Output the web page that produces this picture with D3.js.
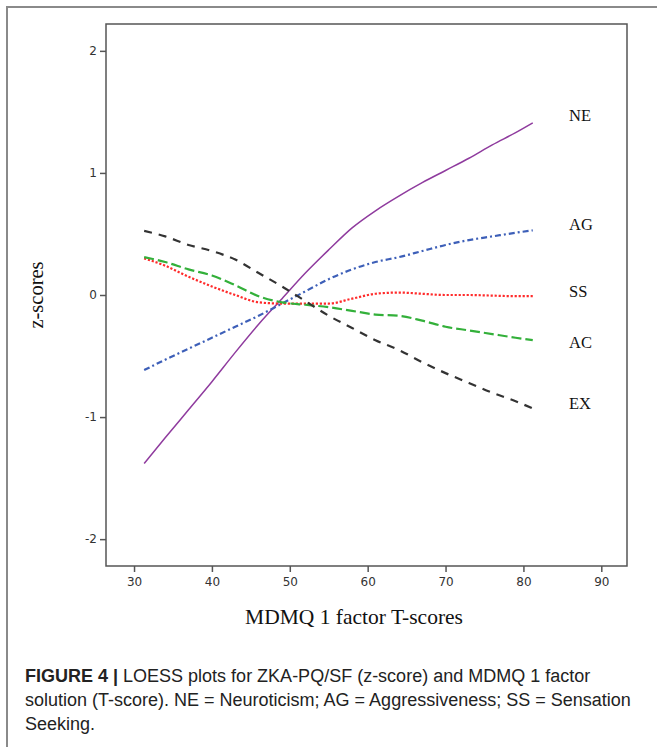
<!DOCTYPE html>
<html>
<head>
<meta charset="utf-8">
<script src="https://cdn.jsdelivr.net/npm/d3@7"></script>
<style>
  html, body { margin: 0; padding: 0; background: #fff; }
  svg { display: block; }
</style>
</head>
<body>
<div id="chart"></div>
<script>
const tScores = [31.3, 34, 37, 40, 43, 46, 49, 52, 55, 58, 61, 64, 67, 70, 73, 76, 79, 81.2]

const neValues = [-1.38, -1.17, -0.94, -0.71, -0.47, -0.24, -0.03, 0.18, 0.37, 0.55, 0.69, 0.81, 0.92, 1.02, 1.12, 1.23, 1.33, 1.41]
const agValues = [-0.615, -0.53, -0.44, -0.35, -0.26, -0.17, -0.07, 0.03, 0.13, 0.21, 0.27, 0.31, 0.36, 0.41, 0.45, 0.48, 0.51, 0.53]
const ssValues = [0.30, 0.24, 0.15, 0.07, 0.0, -0.06, -0.07, -0.07, -0.07, -0.03, 0.01, 0.02, 0.01, 0.0, 0.0, -0.005, -0.01, -0.01]
const acValues = [0.31, 0.27, 0.21, 0.16, 0.08, -0.01, -0.06, -0.08, -0.10, -0.13, -0.16, -0.17, -0.21, -0.26, -0.29, -0.32, -0.35, -0.37]
const exValues = [0.525, 0.48, 0.41, 0.36, 0.29, 0.18, 0.07, -0.05, -0.17, -0.27, -0.37, -0.45, -0.55, -0.64, -0.72, -0.80, -0.87, -0.93]

const seriesNames = ["NE", "AG", "SS", "AC", "EX"]
const labelValues = [1.47, 0.58, 0.03, -0.39, -0.89]
const xTicks = [30, 40, 50, 60, 70, 80, 90]
const yTicks = [-2, -1, 0, 1, 2]

const captionLines = [
  ["FIGURE 4 | ", "LOESS plots for ZKA-PQ/SF (z-score) and MDMQ 1 factor"],
  ["", "solution (T-score). NE = Neuroticism; AG = Aggressiveness; SS = Sensation"],
  ["", "Seeking."]
]

const seriesValues = [neValues, agValues, ssValues, acValues, exValues]
const styles = {
  NE: {color: "#8f3b9e", dash: null, width: 1.5},
  AG: {color: "#3d5fb8", dash: "6,3,2,3", width: 2.2},
  SS: {color: "#ff2b2b", dash: "2.2,1.8", width: 2.2},
  AC: {color: "#33b03a", dash: "10,4", width: 2.2},
  EX: {color: "#333333", dash: "8,7", width: 2.2}
}

const width = 657
const height = 747
const plot = {left: 106, right: 627, top: 24, bottom: 566}

const svg = d3.select("#chart")
  .append("svg")
  .attr("width", width)
  .attr("height", height)

// outer figure frame (open to the right and bottom)
svg.append("path")
  .attr("d", `M7,${height + 5} L7,7 L${width + 5},7`)
  .attr("fill", "none")
  .attr("stroke", "#8a8a8a")
  .attr("stroke-width", 2)

const x = d3.scaleLinear().domain([26.4, 93.3]).range([plot.left, plot.right])
const y = d3.scaleLinear().domain([-2.22, 2.22]).range([plot.bottom, plot.top])

// plot box
svg.append("rect")
  .attr("x", plot.left)
  .attr("y", plot.top)
  .attr("width", plot.right - plot.left)
  .attr("height", plot.bottom - plot.top)
  .attr("fill", "none")
  .attr("stroke", "#555")
  .attr("stroke-width", 1.5)

const tickFormat = d => String(d).replace("\u2212", "-")

svg.append("g")
  .attr("transform", `translate(0,${plot.bottom})`)
  .call(d3.axisBottom(x).tickValues(xTicks).tickFormat(tickFormat).tickSize(6).tickPadding(5).tickSizeOuter(0))
  .call(g => g.select(".domain").remove())
  .call(g => g.selectAll("line").attr("stroke", "#555").attr("stroke-width", 1.5))
  .call(g => g.selectAll("text").attr("fill", "#333").attr("font-size", 12).attr("font-family", "DejaVu Sans, sans-serif"))

svg.append("g")
  .attr("transform", `translate(${plot.left},0)`)
  .call(d3.axisLeft(y).tickValues(yTicks).tickFormat(tickFormat).tickSize(6).tickPadding(3).tickSizeOuter(0))
  .call(g => g.select(".domain").remove())
  .call(g => g.selectAll("line").attr("stroke", "#555").attr("stroke-width", 1.5))
  .call(g => g.selectAll("text").attr("fill", "#333").attr("font-size", 12).attr("font-family", "DejaVu Sans, sans-serif"))

const line = d3.line()
  .x(d => x(d[0]))
  .y(d => y(d[1]))
  .curve(d3.curveMonotoneX)

seriesNames.forEach((name, i) => {
  const st = styles[name]
  svg.append("path")
    .datum(tScores.map((t, j) => [t, seriesValues[i][j]]))
    .attr("fill", "none")
    .attr("stroke", st.color)
    .attr("stroke-width", st.width)
    .attr("stroke-dasharray", st.dash)
    .attr("d", line)
})

svg.append("g")
  .selectAll("text")
  .data(seriesNames)
  .join("text")
  .attr("x", 569)
  .attr("y", (d, i) => y(labelValues[i]))
  .attr("dy", "0.35em")
  .attr("font-family", "Liberation Serif, serif")
  .attr("font-size", 16.5)
  .attr("fill", "#111")
  .text(d => d)

svg.append("text")
  .attr("transform", `translate(43,${(plot.top + plot.bottom) / 2}) rotate(-90)`)
  .attr("text-anchor", "middle")
  .attr("font-family", "Liberation Serif, serif")
  .attr("font-size", 20.5)
  .attr("fill", "#111")
  .text("z-scores")

svg.append("text")
  .attr("x", 354)
  .attr("y", 624)
  .attr("text-anchor", "middle")
  .attr("font-family", "Liberation Serif, serif")
  .attr("font-size", 21.5)
  .attr("fill", "#111")
  .text("MDMQ 1 factor T-scores")

const caption = svg.append("g")
  .attr("font-family", "Liberation Sans, Arial, sans-serif")
  .attr("font-size", 18)
  .attr("fill", "#222")

captionLines.forEach((parts, i) => {
  const t = caption.append("text")
    .attr("x", 25)
    .attr("y", 682 + i * 24)
  if (parts[0]) t.append("tspan").attr("font-weight", "bold").text(parts[0])
  t.append("tspan").text(parts[1])
})
</script>
</body>
</html>
